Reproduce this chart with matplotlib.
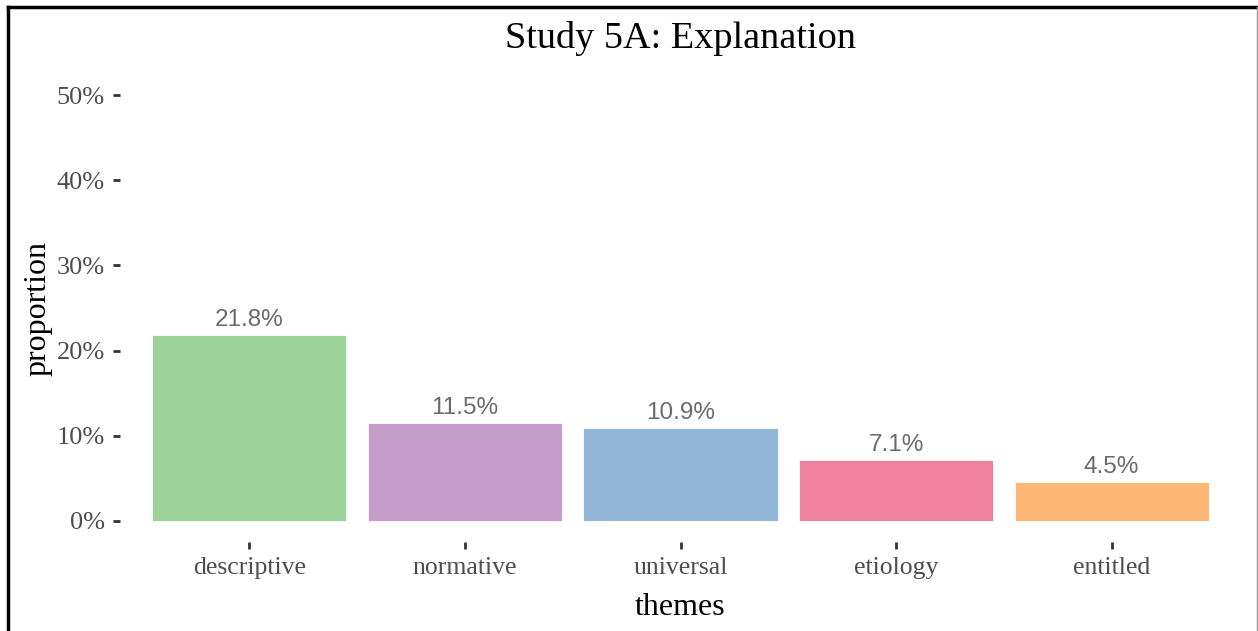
import matplotlib
matplotlib.use("Agg")
import matplotlib.pyplot as plt
from matplotlib.lines import Line2D
from matplotlib.ticker import FuncFormatter

# Theme proportions for Study 5A
themes = ["descriptive", "normative", "universal", "etiology", "entitled"]
proportions = [0.218, 0.115, 0.109, 0.071, 0.045]
bar_colors = ["#9DD29B", "#C49BC9", "#92B6D6", "#EF819F", "#FDB875"]
y_ticks = [0.0, 0.1, 0.2, 0.3, 0.4, 0.5]

serif = "Liberation Serif"
sans = "Liberation Sans"

fig = plt.figure(figsize=(12.58, 6.31), dpi=100)
ax = fig.add_axes([120 / 1258, 1 - 542 / 631, (1241 - 120) / 1258, (542 - 74) / 631])

x = range(len(themes))
ax.bar(x, proportions, width=0.9, color=bar_colors, edgecolor="white", linewidth=0.6)

for xi, p in zip(x, proportions):
    ax.text(xi, p + 0.005, f"{p * 100:.1f}%", ha="center", va="bottom",
            fontsize=17.5, color="#6b6b6b", family=sans)

ax.set_xlim(-0.6, len(themes) - 0.4)
ax.set_ylim(-0.025, 0.525)
ax.set_xticks(list(x))
ax.set_xticklabels(themes, family=serif, fontsize=18.5, color="#4d4d4d")
ax.set_yticks(y_ticks)
ax.yaxis.set_major_formatter(FuncFormatter(lambda v, _: f"{v * 100:.0f}%"))
for lbl in ax.get_yticklabels():
    lbl.set_family(serif)
    lbl.set_fontsize(19)
    lbl.set_color("#4d4d4d")
ax.tick_params(axis="both", length=5, width=2, color="#333333", pad=6)

for s in ax.spines.values():
    s.set_visible(False)

ax.set_xlabel("themes", family=serif, fontsize=23, color="black", labelpad=10)
ax.set_ylabel("proportion", family=serif, fontsize=23, color="black", labelpad=3)
fig.text((120 + 1241) / 2 / 1258, 1 - 38 / 631, "Study 5A: Explanation",
         ha="center", va="center", family=serif, fontsize=27.5, color="black")

# outer frame: heavy left and top edges, thin grey right edge
fig.add_artist(Line2D([8 / 1258, 8 / 1258], [0, 1 - 7 / 631], color="black", lw=2.5,
                      transform=fig.transFigure))
fig.add_artist(Line2D([8 / 1258, 1257 / 1258], [1 - 7 / 631, 1 - 7 / 631], color="black",
                      lw=2.5, transform=fig.transFigure))
fig.add_artist(Line2D([1256.5 / 1258, 1256.5 / 1258], [0, 1 - 7 / 631], color="#9a9a9a",
                      lw=1, transform=fig.transFigure))

fig.savefig("out.png", dpi=100)
